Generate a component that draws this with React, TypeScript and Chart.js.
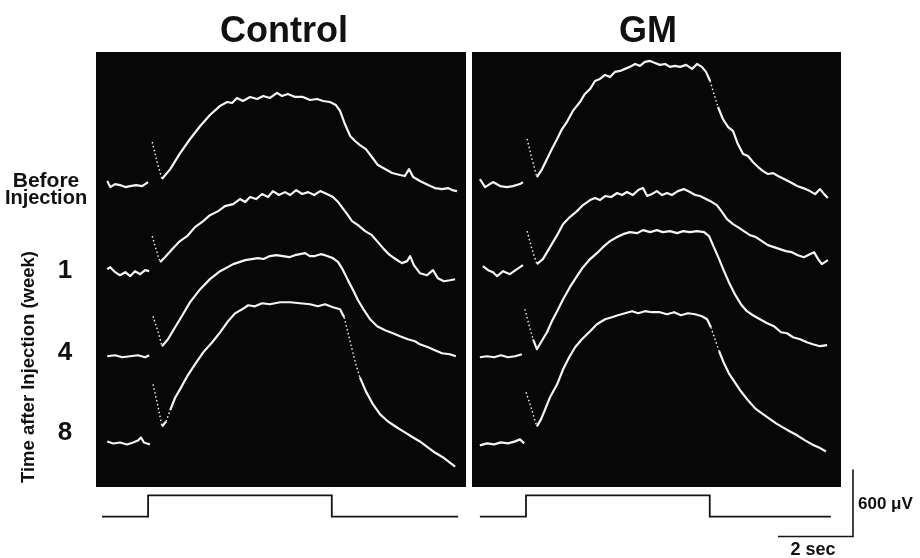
import React, { useEffect, useRef } from "react";
import { Chart, registerables } from "chart.js";

Chart.register(...registerables);

// ---- data: [time (s) from light onset, response (µV) relative to the trace baseline]; null = pen gap
type Pt = [number, number | null];

const PANEL_TITLES = ["Control", "GM"];
const ROW_LABELS = ["1", "4", "8"];

const CONTROL_BEFORE: Pt[] = [[-1.09,27],[-1.01,-27],[-0.88,0],[-0.75,-9],[-0.61,-27],[-0.48,-18],[-0.32,-9],[-0.16,-18],[0,18],[0.06,null],[0.11,376],[0.24,197],[0.37,45],[0.59,134],[0.85,275],[1.12,403],[1.39,519],[1.65,618],[1.92,699],[2.11,734],[2.24,725],[2.37,770],[2.53,743],[2.72,779],[2.91,761],[3.07,788],[3.25,770],[3.44,815],[3.57,788],[3.73,806],[3.92,779],[4.13,779],[4.32,752],[4.51,761],[4.67,743],[4.85,734],[5.01,707],[5.12,654],[5.25,537],[5.39,430],[5.52,385],[5.65,349],[5.81,313],[5.97,242],[6.13,170],[6.32,134],[6.51,99],[6.72,81],[6.85,72],[6.96,134],[7.07,63],[7.25,27],[7.47,-9],[7.65,-36],[7.84,-45],[8.0,-36],[8.11,-54],[8.24,-63]];
const CONTROL_WEEK1: Pt[] = [[-1.09,18],[-1.01,36],[-0.88,-9],[-0.75,-36],[-0.61,-9],[-0.48,-45],[-0.35,0],[-0.21,-27],[-0.08,9],[0.03,0],[0.07,null],[0.11,313],[0.21,197],[0.32,81],[0.45,125],[0.64,197],[0.85,269],[1.04,313],[1.25,394],[1.47,448],[1.65,501],[1.87,537],[2.05,582],[2.27,600],[2.45,645],[2.59,618],[2.72,663],[2.88,645],[3.04,690],[3.2,663],[3.33,716],[3.49,681],[3.65,707],[3.79,681],[3.95,725],[4.11,690],[4.27,707],[4.43,681],[4.59,716],[4.77,690],[4.93,663],[5.07,618],[5.17,573],[5.31,510],[5.44,448],[5.6,412],[5.79,358],[5.97,322],[6.13,260],[6.29,197],[6.45,143],[6.61,107],[6.77,72],[6.91,90],[6.99,134],[7.09,54],[7.25,-18],[7.44,-36],[7.6,9],[7.73,-63],[7.89,-90],[8.05,-81],[8.19,-72]];
const CONTROL_WEEK4: Pt[] = [[-1.09,0],[-0.88,9],[-0.69,-9],[-0.48,0],[-0.27,9],[-0.08,-9],[0.03,9],[0.08,null],[0.13,358],[0.27,215],[0.37,90],[0.53,152],[0.72,260],[0.93,376],[1.12,484],[1.39,600],[1.65,690],[1.92,761],[2.27,824],[2.59,860],[2.93,878],[3.08,870],[3.25,896],[3.42,904],[3.6,895],[3.76,886],[3.92,904],[4.05,913],[4.19,922],[4.32,895],[4.45,896],[4.6,913],[4.72,904],[4.93,878],[5.07,842],[5.2,770],[5.33,681],[5.47,591],[5.6,501],[5.76,412],[5.92,331],[6.11,269],[6.32,233],[6.53,206],[6.72,179],[6.93,152],[7.12,134],[7.25,107],[7.47,81],[7.65,54],[7.84,27],[8.05,18],[8.21,0]];
const CONTROL_WEEK8: Pt[] = [[-1.09,9],[-0.93,-9],[-0.75,0],[-0.56,-18],[-0.4,0],[-0.27,18],[-0.19,45],[-0.11,0],[0.05,-18],[0.09,null],[0.13,519],[0.27,313],[0.37,143],[0.48,188],[0.59,290],[0.72,400],[0.85,475],[1.04,591],[1.25,698],[1.47,806],[1.71,896],[1.92,985],[2.13,1083],[2.32,1155],[2.51,1191],[2.67,1227],[2.85,1218],[3.04,1245],[3.25,1236],[3.52,1254],[3.79,1254],[4.05,1245],[4.32,1236],[4.53,1218],[4.72,1236],[4.93,1209],[5.12,1191],[5.23,1119],[5.33,985],[5.44,833],[5.55,690],[5.65,582],[5.81,457],[6.0,340],[6.19,251],[6.4,188],[6.64,134],[6.85,90],[7.07,45],[7.25,9],[7.47,-45],[7.65,-90],[7.87,-134],[8.05,-179],[8.19,-215]];

const GM_BEFORE: Pt[] = [[-1.23,54],[-1.09,-18],[-0.88,27],[-0.69,-9],[-0.51,-18],[-0.35,-9],[-0.16,9],[-0.08,27],[-0.02,null],[0.03,412],[0.16,233],[0.29,72],[0.43,143],[0.56,233],[0.69,322],[0.83,412],[0.96,501],[1.09,564],[1.25,663],[1.44,743],[1.57,815],[1.71,860],[1.84,931],[1.97,949],[2.11,985],[2.24,967],[2.37,1012],[2.51,1021],[2.64,1039],[2.77,1057],[2.91,1083],[3.04,1066],[3.17,1101],[3.31,1110],[3.44,1092],[3.57,1075],[3.71,1083],[3.84,1057],[3.97,1066],[4.11,1057],[4.27,1075],[4.43,1039],[4.56,1083],[4.69,1057],[4.8,1012],[4.91,931],[5.01,815],[5.12,698],[5.25,591],[5.39,519],[5.52,484],[5.65,367],[5.79,278],[5.92,260],[6.05,206],[6.19,161],[6.32,125],[6.45,99],[6.59,107],[6.72,81],[6.88,54],[7.04,27],[7.23,-9],[7.39,-27],[7.57,-54],[7.71,-81],[7.84,-36],[7.95,-81],[8.05,-116]];
const GM_WEEK1: Pt[] = [[-1.15,27],[-1.01,-9],[-0.88,-27],[-0.77,-63],[-0.61,-18],[-0.43,-45],[-0.24,0],[-0.08,36],[-0.02,null],[0.03,340],[0.16,179],[0.29,45],[0.45,90],[0.64,197],[0.83,304],[0.99,403],[1.17,466],[1.36,519],[1.52,573],[1.71,618],[1.84,636],[1.97,618],[2.11,654],[2.27,645],[2.43,681],[2.56,663],[2.69,690],[2.85,663],[2.99,707],[3.12,725],[3.23,654],[3.36,672],[3.49,698],[3.63,663],[3.76,681],[3.89,663],[4.05,698],[4.21,716],[4.37,690],[4.51,663],[4.64,654],[4.8,627],[4.96,600],[5.09,573],[5.23,510],[5.36,448],[5.52,403],[5.65,376],[5.81,340],[5.97,304],[6.13,287],[6.29,251],[6.45,215],[6.61,197],[6.77,179],[6.93,161],[7.09,152],[7.25,125],[7.41,107],[7.57,134],[7.68,152],[7.79,90],[7.89,45],[7.97,63],[8.05,81]];
const GM_WEEK4: Pt[] = [[-1.23,-9],[-1.04,0],[-0.85,-9],[-0.67,9],[-0.48,-9],[-0.29,0],[-0.11,18],[-0.07,null],[-0.03,421],[0.11,242],[0.19,152],[0.29,63],[0.4,125],[0.56,215],[0.69,313],[0.83,403],[0.99,510],[1.17,618],[1.36,716],[1.52,797],[1.71,869],[1.89,922],[2.08,985],[2.24,1030],[2.43,1066],[2.59,1092],[2.77,1110],[2.96,1101],[3.12,1128],[3.31,1110],[3.49,1128],[3.65,1110],[3.84,1119],[4.03,1101],[4.19,1119],[4.37,1110],[4.56,1119],[4.75,1110],[4.88,1075],[5.01,976],[5.15,869],[5.28,761],[5.41,663],[5.57,555],[5.73,466],[5.89,403],[6.05,367],[6.24,331],[6.43,296],[6.61,269],[6.8,215],[6.96,206],[7.12,170],[7.31,152],[7.49,125],[7.65,107],[7.84,90],[8.03,99]];
const GM_WEEK8: Pt[] = [[-1.23,-18],[-1.04,0],[-0.85,-9],[-0.67,9],[-0.48,0],[-0.29,18],[-0.16,36],[-0.05,0],[-0.02,null],[0,457],[0.11,349],[0.19,260],[0.29,152],[0.4,215],[0.51,304],[0.64,412],[0.83,528],[0.99,663],[1.15,770],[1.31,860],[1.49,931],[1.71,1003],[1.89,1066],[2.11,1110],[2.29,1128],[2.45,1146],[2.64,1164],[2.83,1182],[2.99,1164],[3.17,1182],[3.36,1173],[3.57,1173],[3.76,1155],[3.95,1173],[4.13,1146],[4.32,1164],[4.51,1155],[4.69,1137],[4.83,1110],[4.93,1039],[5.04,931],[5.15,824],[5.28,716],[5.41,627],[5.57,546],[5.73,466],[5.92,385],[6.11,313],[6.29,269],[6.48,224],[6.67,179],[6.85,143],[7.04,107],[7.23,72],[7.44,27],[7.63,-9],[7.81,-36],[8.0,-72]];

// vertical stacking of the four recordings (µV)
const CONTROL_OFFSETS = [2709, 1930, 1169, 398];
const GM_OFFSETS = [2700, 1948, 1169, 390];

// light stimulus marker (s, level)
const STIM_T_CONTROL = [-1.23, 0, 0, 4.9, 4.9, 8.27];
const STIM_T_GM = [-1.23, 0, 0, 4.9, 4.9, 8.13];
const STIM_LEVEL = [-265, -265, -75, -75, -265, -265];

// calibration bar: 600 µV (vertical) then 2 sec (horizontal)
const SCALE_T = [8.72, 8.72, 6.72];
const SCALE_V = [157, -443, -443];

const Y_MIN = 0;
const Y_MAX = 3890;
const FONT = '"Liberation Sans", Arial, Helvetica, sans-serif';

const steep = (ctx: any) =>
  Math.abs(ctx.p1.y - ctx.p0.y) > 2.7 * Math.abs(ctx.p1.x - ctx.p0.x);

const bgPlugin = {
  id: "blackPanel",
  beforeDatasetsDraw(chart: any) {
    const { ctx, chartArea } = chart;
    ctx.save();
    ctx.fillStyle = "#070707";
    ctx.fillRect(chartArea.left, chartArea.top, chartArea.right - chartArea.left, chartArea.bottom - chartArea.top);
    ctx.restore();
  },
};

function buildConfig(
  traces: Pt[][],
  offsets: number[],
  stimT: number[],
  xMin: number,
  xMax: number,
  padding: { left: number; right: number; top: number; bottom: number },
  withScale: boolean
): any {
  const datasets: any[] = traces.map((tr, i) => ({
    data: tr.map(([t, v]) => ({ x: t, y: v === null ? null : v + offsets[i] })),
    borderColor: "#f4f4f4",
    borderWidth: 2.2,
    borderJoinStyle: "round",
    pointRadius: 0,
    spanGaps: false,
    tension: 0,
    segment: {
      borderDash: (ctx: any) => (steep(ctx) ? [1.5, 2.5] : undefined),
      borderWidth: (ctx: any) => (steep(ctx) ? 1.4 : undefined),
    },
  }));
  datasets.push({
    data: stimT.map((t, i) => ({ x: t, y: STIM_LEVEL[i] })),
    borderColor: "#151515",
    borderWidth: 1.8,
    pointRadius: 0,
    tension: 0,
    clip: false,
  });
  if (withScale) {
    datasets.push({
      data: SCALE_T.map((t, i) => ({ x: t, y: SCALE_V[i] })),
      borderColor: "#151515",
      borderWidth: 1.6,
      pointRadius: 0,
      tension: 0,
      clip: false,
    });
  }
  return {
    type: "line",
    data: { datasets },
    options: {
      responsive: false,
      animation: false,
      devicePixelRatio: 1,
      layout: { padding },
      scales: {
        x: { type: "linear", min: xMin, max: xMax, display: false },
        y: { type: "linear", min: Y_MIN, max: Y_MAX, display: false },
      },
      plugins: { legend: { display: false }, tooltip: { enabled: false } },
      elements: { point: { radius: 0 } },
    },
    plugins: [bgPlugin],
  };
}

function Label(props: { text: string; x: number; baseline: number; size: number; align?: "center" | "left" }) {
  const { text, x, baseline, size, align = "center" } = props;
  return (
    <div
      style={{
        position: "absolute",
        left: x,
        top: baseline - 0.8465 * size,
        transform: align === "center" ? "translateX(-50%)" : undefined,
        fontFamily: FONT,
        fontWeight: "bold",
        fontSize: size,
        lineHeight: `${size}px`,
        whiteSpace: "nowrap",
        color: "#111",
      }}
    >
      {text}
    </div>
  );
}

export default function App() {
  const leftRef = useRef<HTMLCanvasElement | null>(null);
  const rightRef = useRef<HTMLCanvasElement | null>(null);

  useEffect(() => {
    const c1 = new Chart(
      leftRef.current as HTMLCanvasElement,
      buildConfig(
        [CONTROL_BEFORE, CONTROL_WEEK1, CONTROL_WEEK4, CONTROL_WEEK8],
        CONTROL_OFFSETS,
        STIM_T_CONTROL,
        -1.39,
        8.48,
        { left: 96, right: 4, top: 52, bottom: 71 },
        false
      )
    );
    const c2 = new Chart(
      rightRef.current as HTMLCanvasElement,
      buildConfig(
        [GM_BEFORE, GM_WEEK1, GM_WEEK4, GM_WEEK8],
        GM_OFFSETS,
        STIM_T_GM,
        -1.44,
        8.4,
        { left: 2, right: 79, top: 52, bottom: 71 },
        true
      )
    );
    return () => {
      c1.destroy();
      c2.destroy();
    };
  }, []);

  return (
    <div style={{ position: "fixed", left: 0, top: 0, width: 920, height: 558, background: "#fff", overflow: "hidden" }}>
      <canvas ref={leftRef} width={470} height={558} style={{ position: "absolute", left: 0, top: 0, width: 470, height: 558 }} />
      <canvas ref={rightRef} width={450} height={558} style={{ position: "absolute", left: 470, top: 0, width: 450, height: 558 }} />
      <Label text={PANEL_TITLES[0]} x={284} baseline={42} size={36} />
      <Label text={PANEL_TITLES[1]} x={648} baseline={42} size={36} />
      <Label text="Before" x={46} baseline={187} size={21} />
      <Label text="Injection" x={46} baseline={204} size={20} />
      <Label text={ROW_LABELS[0]} x={65} baseline={278} size={26} />
      <Label text={ROW_LABELS[1]} x={65} baseline={360} size={26} />
      <Label text={ROW_LABELS[2]} x={65} baseline={440} size={26} />
      <div
        style={{
          position: "absolute",
          left: 27.6,
          top: 367,
          transform: "translate(-50%, -50%) rotate(-90deg)",
          fontFamily: FONT,
          fontWeight: "bold",
          fontSize: 18.5,
          lineHeight: "18.5px",
          whiteSpace: "nowrap",
          color: "#111",
        }}
      >
        Time after Injection (week)
      </div>
      <Label text="600 μV" x={858} baseline={509} size={17} align="left" />
      <Label text="2 sec" x={813} baseline={555} size={18} />
    </div>
  );
}
